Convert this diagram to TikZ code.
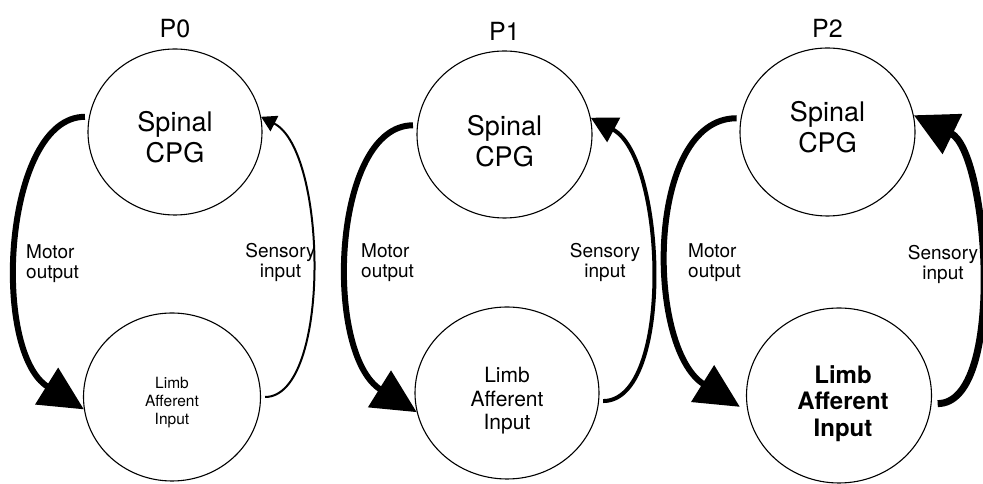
\documentclass[tikz,border=0pt]{standalone}
\usepackage{fontspec}
\setmainfont{TeX Gyre Heros}
\usetikzlibrary{arrows.meta,positioning,shapes.geometric}
\tikzset{
  cpg/.style={draw, line width=1.1pt, ellipse, inner sep=0pt},
  limb/.style={draw, line width=1.1pt, ellipse, inner sep=0pt},
  cpgtext/.style={inner sep=0pt, align=center, font=\fontsize{27}{31}\selectfont},
  limbtext/.style={inner sep=0pt, align=center},
  paneltitle/.style={inner sep=0pt, font=\fontsize{25}{30}\selectfont},
  wirelabel/.style={inner sep=0pt, font=\fontsize{19}{20}\selectfont},
  wire/.style={shorten <=4pt},
  motorwire/.style={wire, line width=6pt, -{Triangle[length=44pt,width=42pt]}},
  thinwire/.style={wire, line width=2pt, -{Triangle[length=15pt,width=17pt]}},
  midwire/.style={wire, line width=4pt, -{Triangle[length=26pt,width=27pt]}},
  heavywire/.style={wire, line width=7pt, -{Triangle[length=43pt,width=43pt]}}
}

\begin{document}
\begin{tikzpicture}[x=1pt, y=1pt]
  \useasboundingbox (0,0) rectangle (983,484);

  % P0
  \node[cpg, minimum width=174pt, minimum height=166pt] (cpg0) at (175,352) {};
  \node[limb, minimum width=177pt, minimum height=168pt] (limb0) at (172,87) {};
  \node[cpgtext] (cpglabel0) at ([yshift=-5pt]cpg0) {Spinal\\CPG};
  \node[limbtext, font=\fontsize{15.5}{18}\selectfont] (limblabel0)
    at ([yshift=-6pt]limb0) {Limb\\Afferent\\Input};
  \node[paneltitle, above=10pt of cpg0] (title0) {P0};
  \node[wirelabel, anchor=west, align=left] (motor0) at (26,220.5) {Motor\\output};
  \node[wirelabel, align=center] (sense0) at (280.5,221.5) {Sensory\\input};
  \draw[motorwire] (cpg0.170) .. controls +(180:85) and +(148:110) .. (limb0.188);
  \draw[thinwire] (limb0.east) .. controls +(0:70) and +(-27:75) .. (cpg0.10);

  % P1
  \node[cpg, minimum width=175pt, minimum height=167pt] (cpg1) at (504.5,349.5) {};
  \node[limb, minimum width=184pt, minimum height=172pt] (limb1) at (507,91) {};
  \node[cpgtext] (cpglabel1) at ([yshift=-6.5pt]cpg1) {Spinal\\CPG};
  \node[limbtext, font=\fontsize{21}{23.5}\selectfont] (limblabel1)
    at ([yshift=-8pt]limb1) {Limb\\Afferent\\Input};
  \node[paneltitle, above=10pt of cpg1] (title1) {P1};
  \node[wirelabel, anchor=west, align=left] (motor1) at (361,221.5) {Motor\\output};
  \node[wirelabel, align=center] (sense1) at (605,222) {Sensory\\input};
  \draw[motorwire] (cpg1.174) .. controls +(180:85) and +(148:110) .. (limb1.192);
  \draw[midwire] (limb1.-5) .. controls +(0:75) and +(-28:85) .. (cpg1.11);

  % P2
  \node[cpg, minimum width=175pt, minimum height=168pt] (cpg2) at (827.5,352) {};
  \node[limb, minimum width=185pt, minimum height=175pt] (limb2) at (839,88.5) {};
  \node[cpgtext] (cpglabel2) at ([yshift=4.5pt]cpg2) {Spinal\\CPG};
  \node[limbtext, font=\bfseries\fontsize{24}{26.5}\selectfont] (limblabel2)
    at ([xshift=4pt, yshift=-8pt]limb2) {Limb\\Afferent\\Input};
  \node[paneltitle, above=10pt of cpg2] (title2) {P2};
  \node[wirelabel, anchor=west, align=left] (motor2) at (688,221) {Motor\\output};
  \node[wirelabel, align=center] (sense2) at (943,220) {Sensory\\input};
  \draw[motorwire, shorten >=9pt] (cpg2.171) .. controls +(180:95) and +(148:120) .. (limb2.190);
  \draw[heavywire, shorten <=6pt] (limb2.-5) .. controls +(0:75) and +(-26:83) .. (cpg2.11);
\end{tikzpicture}
\end{document}
